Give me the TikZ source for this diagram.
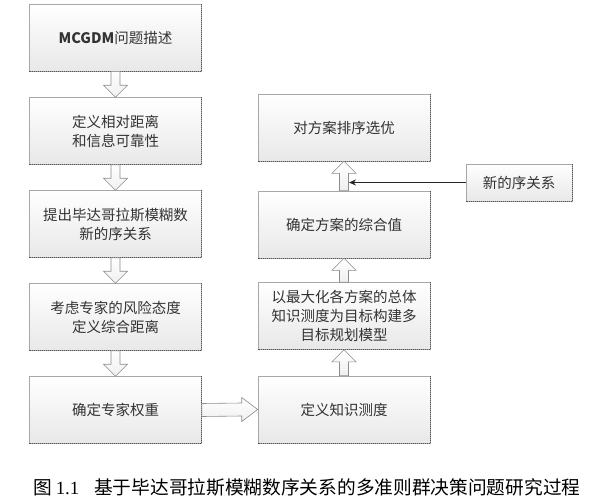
\documentclass[tikz,border=0pt]{standalone}
\usepackage{fontspec}
\setmainfont{Noto Sans CJK SC}
\newfontfamily\latinserif{Liberation Serif}
\usetikzlibrary{arrows.meta,calc}
\definecolor{txt}{HTML}{333333}
\definecolor{bord}{HTML}{A8A8A8}
\definecolor{shd}{HTML}{555555}
\tikzset{
  box/.style={draw=bord, line width=0.6pt, top color=white, bottom color=black!9,
    minimum width=172pt, minimum height=67pt, align=center, text=txt,
    font=\fontsize{14.5}{19}\selectfont, inner sep=2pt},
  smallbox/.style={box, minimum width=106pt, minimum height=37pt},
  blk/.style={draw=black!45, line width=0.6pt, top color=white, bottom color=black!6},
  shadowline/.style={draw=shd, line width=1pt, densely dotted},
}
\newcommand{\shadowedge}[1]{\draw[shadowline] (#1.north east) -- (#1.south east) -- (#1.south west);}
\newcommand{\downblk}[2]{%
  \draw[blk] ([xshift=-4.5pt]#1.south) -- ([xshift=-4.5pt,yshift=12pt]#2.north)
    -- ([xshift=-12pt,yshift=12pt]#2.north) -- (#2.north)
    -- ([xshift=12pt,yshift=12pt]#2.north) -- ([xshift=4.5pt,yshift=12pt]#2.north)
    -- ([xshift=4.5pt]#1.south) -- cycle;}
\newcommand{\upblk}[2]{%
  \draw[blk] ([xshift=-4.5pt]#1.north) -- ([xshift=-4.5pt,yshift=-12pt]#2.south)
    -- ([xshift=-12pt,yshift=-12pt]#2.south) -- (#2.south)
    -- ([xshift=12pt,yshift=-12pt]#2.south) -- ([xshift=4.5pt,yshift=-12pt]#2.south)
    -- ([xshift=4.5pt]#1.north) -- cycle;}
\begin{document}
\begin{tikzpicture}[x=1pt,y=-1pt]
\useasboundingbox (0,0) rectangle (600,501);
% left column
\node[box] (l1) at (115.5,37.5) {\textbf{MCGDM}问题描述};
\node[box] (l2) at (115.5,131) {定义相对距离\\和信息可靠性};
\node[box] (l3) at (115.5,224) {提出毕达哥拉斯模糊数\\新的序关系};
\node[box] (l4) at (115.5,317) {考虑专家的风险态度\\定义综合距离};
\node[box] (l5) at (115.5,410) {确定专家权重};
% right column
\node[box] (r1) at (344,127.5) {对方案排序选优};
\node[box] (r2) at (344,224.5) {确定方案的综合值};
\node[box] (r3) at (344,316) {以最大化各方案的总体\\知识测度为目标构建多\\目标规划模型};
\node[box] (r4) at (344,409.5) {定义知识测度};
\node[smallbox] (nw) at (519,182.5) {新的序关系};
\foreach \n in {l1,l2,l3,l4,l5,r1,r2,r3,r4,nw} {\shadowedge{\n}}
% block arrows
\downblk{l1}{l2}
\downblk{l2}{l3}
\downblk{l3}{l4}
\downblk{l4}{l5}
\upblk{r4}{r3}
\upblk{r3}{r2}
\upblk{r2}{r1}
\draw[blk] ([yshift=6.5pt]l5.east) -- ([xshift=-16pt,yshift=6.5pt]r4.west)
  -- ([xshift=-16pt,yshift=12pt]r4.west) -- (r4.west)
  -- ([xshift=-16pt,yshift=-12pt]r4.west) -- ([xshift=-16pt,yshift=-6.5pt]r4.west)
  -- ([yshift=-6.5pt]l5.east) -- cycle;
% new order relation arrow
\coordinate (tipc) at (349,182.5);
\draw[black!85, line width=0.9pt, -{Stealth[length=7pt,width=6pt]}] (nw.west) -- (tipc);
% caption
\node[anchor=west, inner sep=0pt, font=\fontsize{18.7}{22}\selectfont] (cap) at (33,487)
  {图\hspace{4pt}{\latinserif 1.1}\hspace{15pt}基于毕达哥拉斯模糊数序关系的多准则群决策问题研究过程};
\end{tikzpicture}
\end{document}
